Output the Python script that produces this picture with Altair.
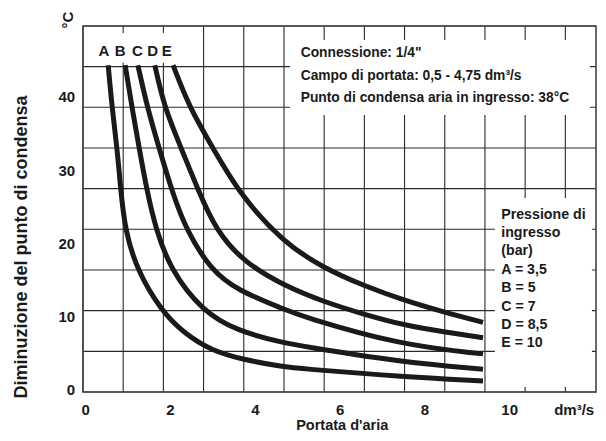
import altair as alt
import pandas as pd

# ---- data (x: air flow dm3/s, y: dew point reduction °C)
curve_names = ["A", "B", "C", "D", "E"]
a_x = [0.53, 0.62, 0.74, 0.83, 0.93, 1.21, 1.78, 2.32, 2.98, 3.73, 4.68, 5.05, 7.41, 9.37]
a_y = [44.4, 38.7, 33.1, 27.1, 21.9, 16.4, 10.9, 7.8, 5.4, 4.2, 3.2, 3.0, 1.9, 1.3]
b_x = [0.93, 1.09, 1.26, 1.45, 1.66, 2.01, 2.74, 3.57, 4.68, 5.05, 7.41, 9.37]
b_y = [44.4, 38.7, 33.1, 27.1, 21.9, 16.4, 10.9, 8.1, 6.5, 6.1, 3.9, 2.9]
c_x = [1.23, 1.45, 1.73, 2.04, 2.37, 2.96, 3.57, 4.68, 5.05, 7.41, 9.37]
c_y = [44.4, 38.7, 33.1, 27.1, 21.9, 16.4, 13.7, 11.1, 10.2, 6.2, 5.0]
d_x = [1.63, 1.85, 2.25, 2.67, 3.07, 3.73, 4.68, 5.62, 6.56, 7.51, 8.45, 9.37]
d_y = [44.4, 38.7, 33.1, 27.1, 21.9, 17.5, 14.3, 12.1, 10.4, 8.9, 8.0, 7.2]
e_x = [2.06, 2.44, 3.00, 3.64, 4.68, 5.62, 6.56, 7.51, 8.45, 9.37]
e_y = [44.4, 38.7, 33.1, 26.7, 20.1, 16.7, 14.3, 12.3, 10.7, 9.3]

x_ticks = [0, 2, 4, 6, 8, 10]
y_ticks = [0, 10, 20, 30, 40]
unit_x = "dm³/s"
unit_y = "°C"
x_title = "Portata d'aria"
y_title = "Diminuzione del punto di condensa"

# decorative square lattice of the original drawing (index of each line)
grid_cols = list(range(13))
grid_rows = list(range(10))

info_lines = ['Connessione: 1/4"', "Campo di portata: 0,5 - 4,75 dm³/s",
              "Punto di condensa aria in ingresso: 38°C"]
legend_lines = ["Pressione di", "ingresso", "(bar)", "A = 3,5", "B = 5",
                "C = 7", "D = 8,5", "E = 10"]
label_x = [0.43, 0.81, 1.22, 1.58, 1.91]

# ---- build tables
xs_all = [a_x, b_x, c_x, d_x, e_x]
ys_all = [a_y, b_y, c_y, d_y, e_y]
rows = []
for n, xs, ys in zip(curve_names, xs_all, ys_all):
    for i, (xv, yv) in enumerate(zip(xs, ys)):
        rows.append({"curve": n, "i": i, "x": xv, "y": yv})
curves_df = pd.DataFrame(rows)
labels_df = pd.DataFrame({"name": curve_names, "lx": label_x})
xt_df = pd.DataFrame({"v": x_ticks, "t": [str(v) for v in x_ticks]})
yt_df = pd.DataFrame({"v": y_ticks, "t": [str(v) for v in y_ticks]})
one_df = pd.DataFrame({"k": [0]})

FONT = "Liberation Sans, Arial, sans-serif"
INK = "#1a1a1a"
GRID = "#2a2a2a"

X_MIN, X_MAX = -0.064, 12.035
Y_MIN, Y_MAX = -0.205, 49.75
XS = alt.Scale(domain=[X_MIN, X_MAX], nice=False, zero=False)
YS = alt.Scale(domain=[Y_MIN, Y_MAX], nice=False, zero=False)
X_STEP = 0.948     # lattice spacing of the drawing in x units
Y_STEP = 5.551     # lattice spacing of the drawing in y units
X_LAB_Y = -2.6     # row of the x tick labels (below the frame)
Y_LAB_X = -0.25    # right edge of the y tick labels (left of the frame)


def dx(v):
    return alt.X(datum=v, scale=XS, axis=None)


def dy(v):
    return alt.Y(datum=v, scale=YS, axis=None)


def txt(size, **kw):
    base = dict(font=FONT, fontWeight="bold", fontSize=size, color=INK)
    base.update(kw)
    return base


# ---- grid lattice
vrules = alt.Chart(pd.DataFrame({"g": grid_cols})).transform_calculate(
    gx=f"{X_MIN} + datum.g * {X_STEP}"
).mark_rule(color=GRID, strokeWidth=1.1).encode(
    x=alt.X("gx:Q", scale=XS, axis=None)
)
hrules = alt.Chart(pd.DataFrame({"h": grid_rows})).transform_calculate(
    gy=f"{Y_MIN} + datum.h * {Y_STEP}"
).mark_rule(color=GRID, strokeWidth=1.1).encode(
    y=alt.Y("gy:Q", scale=YS, axis=None)
)


# ---- white masks behind the annotations
def box(x1, x2, y1, y2):
    return alt.Chart(one_df).mark_rect(color="white").encode(
        x=dx(x1), x2=alt.X2(datum=x2), y=dy(y1), y2=alt.Y2(datum=y2)
    )


masks = [box(0.0, 2.58, 44.75, 48.8), box(4.82, 11.89, 37.6, 47.84),
         box(9.65, 11.94, 0.48, 26.28)]

frame = alt.Chart(one_df).mark_rect(
    fill=None, stroke="#444", strokeWidth=1.6
).encode(x=dx(X_MIN), x2=alt.X2(datum=X_MAX), y=dy(Y_MIN), y2=alt.Y2(datum=Y_MAX))

curves = alt.Chart(curves_df).mark_line(
    color=INK, strokeWidth=5, interpolate="basis", strokeCap="butt"
).encode(
    x=alt.X("x:Q", scale=XS, axis=None),
    y=alt.Y("y:Q", scale=YS, axis=None),
    detail="curve:N",
    order="i:Q",
)

# ---- tick labels and titles
x_labels = alt.Chart(xt_df).mark_text(**txt(15, baseline="middle", align="center")).encode(
    x=alt.X("v:Q", scale=XS, axis=None), y=dy(X_LAB_Y), text="t:N")
x_unit = alt.Chart(one_df).mark_text(**txt(15, baseline="middle", align="center", text=unit_x)).encode(
    x=dx(11.52), y=dy(X_LAB_Y))
y_labels = alt.Chart(yt_df).mark_text(**txt(15, baseline="middle", align="right")).encode(
    x=dx(Y_LAB_X), y=alt.Y("v:Q", scale=YS, axis=None), text="t:N")
y_unit = alt.Chart(one_df).mark_text(**txt(15, angle=270, baseline="middle", align="center", text=unit_y)).encode(
    x=dx(-0.42), y=dy(50.57))
x_title_m = alt.Chart(one_df).mark_text(**txt(14.5, baseline="middle", align="center", text=x_title)).encode(
    x=dx(6.05), y=dy(-4.85))
y_title_m = alt.Chart(one_df).mark_text(**txt(18, angle=270, baseline="middle", align="center", text=y_title)).encode(
    x=dx(-1.5), y=dy(19.6))

curve_labels = alt.Chart(labels_df).mark_text(**txt(15, baseline="middle")).encode(
    x=alt.X("lx:Q", scale=XS, axis=None), y=dy(46.37), text="name:N")

info = alt.Chart(one_df).mark_text(**txt(13.8, align="left", baseline="middle",
                                         lineHeight=22.5, text=info_lines)).encode(
    x=dx(5.07), y=dy(46.0))

legend = alt.Chart(one_df).mark_text(**txt(14.2, align="left", baseline="middle",
                                           lineHeight=18.4, text=legend_lines)).encode(
    x=dx(9.8), y=dy(24.0))

chart = alt.layer(
    vrules, hrules, *masks, frame, curves, curve_labels,
    x_labels, x_unit, y_labels, y_unit, x_title_m, y_title_m, info, legend
).properties(
    width=513, height=366, autosize="none",
    padding={"left": 75, "top": 18, "right": 2, "bottom": 40},
).configure_view(strokeWidth=0)

chart.save("out.html", embed_options={"renderer": "svg", "actions": False})
